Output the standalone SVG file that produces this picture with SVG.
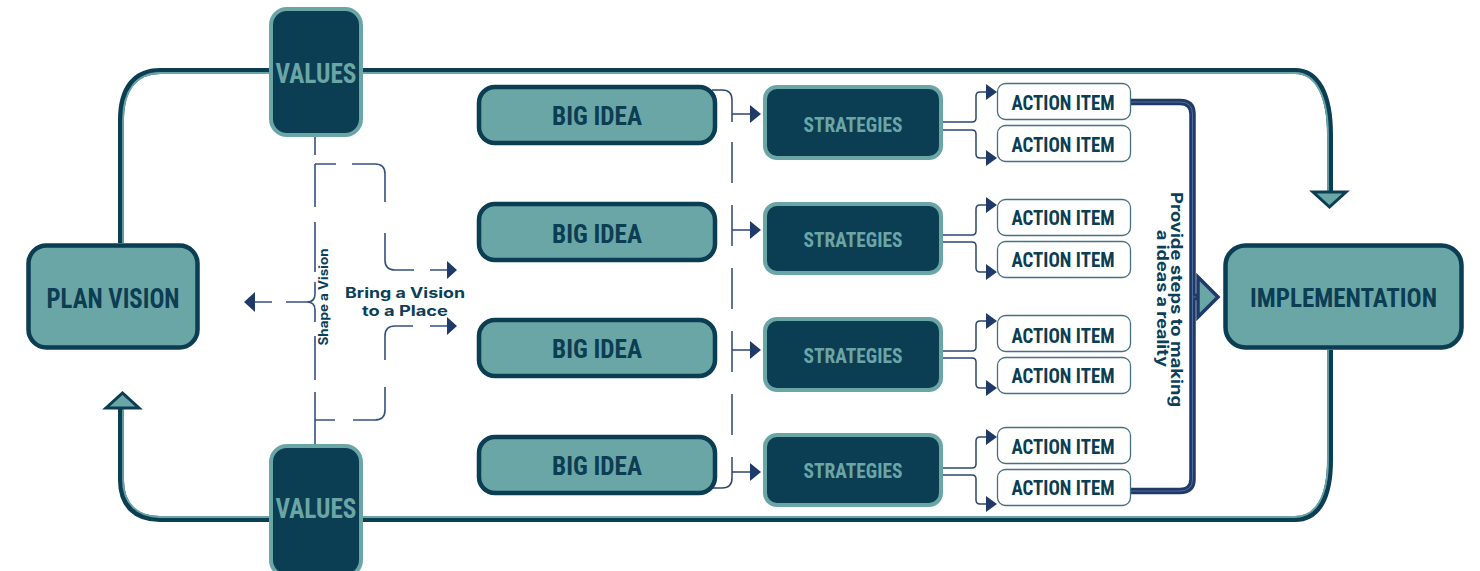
<svg xmlns="http://www.w3.org/2000/svg" width="1480" height="571" viewBox="0 0 1480 571">
<defs>
<style>
.tb{fill:#6ba6a7;stroke:#0b3d53;stroke-width:4.5}
.db{fill:#0b3d53;stroke:#6ba6a7;stroke-width:4}
.ai{fill:#fff;stroke:#46707f;stroke-width:1.3}
.cn{font-family:'Liberation Sans Narrow','Roboto Condensed','DejaVu Sans Condensed','Liberation Sans',sans-serif;font-weight:700;text-anchor:middle}
.gr{font-family:'Inter','Open Sans','Liberation Sans',sans-serif;font-weight:700;text-anchor:middle;fill:#0b4058}
.dk{fill:#0b3d53}
.lt{fill:#6ba6a7}
.dash{fill:none;stroke:#34507d;stroke-width:1.6}
.thin{fill:none;stroke:#2b4670;stroke-width:1.5}
.nav{fill:#1f3a68}
.loopD{fill:none;stroke:#0b3d53;stroke-width:6}
.loopL{fill:none;stroke:#6ba6a7;stroke-width:1.8}
.ahead{fill:#6ba6a7;stroke:#0b3d53;stroke-width:3;stroke-linejoin:miter}
</style>
</defs>

<g id="connectors">
  <!-- main loop top -->
  <path class="loopD" d="M121,243 V120 C121,88 135,71 160,71 H1295 C1318,71 1330,95 1330,135 V192"/>
  <path class="loopL" d="M123,243 V120 C123,90 137,73 160,73 H1295 C1316,73 1328,97 1328,135 V192"/>
  <polygon class="ahead" points="1313,192 1346,192 1329.5,207"/>
  <!-- main loop bottom -->
  <path class="loopD" d="M1330,350 V460 C1330,498 1318,519 1295,519 H160 C135,519 121,505 121,480 V408"/>
  <path class="loopL" d="M1328,350 V460 C1328,496 1316,517 1295,517 H160 C137,517 123,503 123,480 V408"/>
  <polygon class="ahead" points="106,408 139,408 122.5,393"/>

  <!-- dashed vertical between values -->
  <path class="dash" d="M315,137 V155 M315,164 V207 M315,222 V272 M315,282 V294 Q315,302 307,302 Q315,302 315,310 V322 M315,336 V380 M315,392 V446"/>
  <!-- top branch -->
  <path class="dash" d="M315,164 H336 M352,164 H375 Q385,164 385,174 V202 M385,233 V260 Q385,270 395,270 H414 M430,270 H448"/>
  <polygon class="nav" points="447,261 457,270 447,279"/>
  <!-- bottom branch -->
  <path class="dash" d="M315,420 H335 M353,420 H375 Q385,420 385,410 V387 M385,360 V336 Q385,326 395,326 H413 M430,326 H448"/>
  <polygon class="nav" points="447,317 457,326 447,335"/>
  <!-- left arrow to plan vision -->
  <path class="dash" d="M307,302 H286 M272,302 H254"/>
  <polygon class="nav" points="255,292 244,302 255,312"/>

  <!-- big idea to strategies -->
  <path class="thin" d="M712,90 H722 Q732,90 732,100 V122 M732,142 V183 M732,205 V246 M732,268 V309 M732,331 V372 M732,394 V435 M732,457 V478 Q732,488 722,488 H703"/>
  <path class="thin" d="M732,114 H751 M732,230 H751 M732,350 H751 M732,472 H751"/>
  <polygon class="nav" points="750,105 761,114 750,123"/>
  <polygon class="nav" points="750,221 761,230 750,239"/>
  <polygon class="nav" points="750,341 761,350 750,359"/>
  <polygon class="nav" points="750,463 761,472 750,481"/>

  <!-- strategies to action items -->
  <path class="thin" d="M943,122 H972 Q976,122 976,118 V96 Q976,92 980,92 H988 M943,130 H972 Q976,130 976,134 V154 Q976,158 980,158 H988"/>
  <path class="thin" d="M943,235 H972 Q976,235 976,231 V209 Q976,205 980,205 H988 M943,242 H972 Q976,242 976,246 V268 Q976,272 980,272 H988"/>
  <path class="thin" d="M943,351 H972 Q976,351 976,347 V325 Q976,321 980,321 H988 M943,358 H972 Q976,358 976,362 V384 Q976,388 980,388 H988"/>
  <path class="thin" d="M943,468 H972 Q976,468 976,464 V441 Q976,437 980,437 H988 M943,475 H972 Q976,475 976,479 V500 Q976,504 980,504 H988"/>
  <polygon class="nav" points="986,84 997,92 986,100"/>
  <polygon class="nav" points="986,150 997,158 986,166"/>
  <polygon class="nav" points="986,197 997,205 986,213"/>
  <polygon class="nav" points="986,264 997,272 986,280"/>
  <polygon class="nav" points="986,313 997,321 986,329"/>
  <polygon class="nav" points="986,380 997,388 986,396"/>
  <polygon class="nav" points="986,429 997,437 986,445"/>
  <polygon class="nav" points="986,496 997,504 986,512"/>

  <!-- right bracket to implementation -->
  <path fill="none" stroke="#1f3a68" stroke-width="6.5" d="M1131,102 H1180 Q1192.5,102 1192.5,114 V479 Q1192.5,491 1180,491 H1131 M1192.5,297 H1199"/>
  <path fill="none" stroke="#4f6d98" stroke-width="1" d="M1131,102 H1180 Q1192.5,102 1192.5,114 V479 Q1192.5,491 1180,491 H1131 M1192.5,297 H1199"/>
  <polygon points="1198,277 1218,297 1198,317" fill="#6ba6a7" stroke="#1f3a68" stroke-width="3.5"/>
</g>

<g id="plan-vision">
  <rect class="tb" x="28.5" y="245.5" width="169" height="102" rx="18"/>
  <text class="cn dk" x="113" y="308" font-size="28" textLength="133" lengthAdjust="spacingAndGlyphs">PLAN VISION</text>
</g>

<g id="implementation">
  <rect class="tb" x="1225.5" y="245.5" width="236" height="102" rx="20"/>
  <text class="cn dk" x="1343.5" y="307" font-size="26" textLength="187" lengthAdjust="spacingAndGlyphs">IMPLEMENTATION</text>
</g>

<g id="values-top">
  <rect class="db" x="271" y="9" width="90" height="126" rx="16" stroke-width="4.5"/>
  <text class="cn lt" x="316" y="83" font-size="27" textLength="81" lengthAdjust="spacingAndGlyphs">VALUES</text>
</g>

<g id="values-bottom">
  <rect class="db" x="271" y="446" width="90" height="130" rx="16" stroke-width="4.5"/>
  <text class="cn lt" x="316" y="518" font-size="27" textLength="81" lengthAdjust="spacingAndGlyphs">VALUES</text>
</g>

<g id="label-shape">
  <text class="gr" transform="translate(328,297) rotate(-90)" font-size="12.5" textLength="97" lengthAdjust="spacingAndGlyphs">Shape a Vision</text>
</g>
<g id="label-bring">
  <text class="gr" x="405" y="298" font-size="14" textLength="120" lengthAdjust="spacingAndGlyphs">Bring a Vision</text>
  <text class="gr" x="405" y="315.5" font-size="14" textLength="86" lengthAdjust="spacingAndGlyphs">to a Place</text>
</g>

<g id="big-idea-1">
  <rect class="tb" x="479" y="87" width="236" height="56" rx="16"/>
  <text class="cn dk" x="597" y="125" font-size="25" textLength="90" lengthAdjust="spacingAndGlyphs">BIG IDEA</text>
</g>
<g id="big-idea-2">
  <rect class="tb" x="479" y="204" width="236" height="56" rx="16"/>
  <text class="cn dk" x="597" y="243" font-size="25" textLength="90" lengthAdjust="spacingAndGlyphs">BIG IDEA</text>
</g>
<g id="big-idea-3">
  <rect class="tb" x="479" y="320" width="236" height="56" rx="16"/>
  <text class="cn dk" x="597" y="358" font-size="25" textLength="90" lengthAdjust="spacingAndGlyphs">BIG IDEA</text>
</g>
<g id="big-idea-4">
  <rect class="tb" x="479" y="437" width="236" height="56" rx="16"/>
  <text class="cn dk" x="597" y="475" font-size="25" textLength="90" lengthAdjust="spacingAndGlyphs">BIG IDEA</text>
</g>

<g id="strategies-1">
  <rect class="db" x="765" y="87" width="176" height="71" rx="12"/>
  <text class="cn lt" x="853" y="132" font-size="21" textLength="99" lengthAdjust="spacingAndGlyphs">STRATEGIES</text>
</g>
<g id="strategies-2">
  <rect class="db" x="765" y="204" width="176" height="69" rx="12"/>
  <text class="cn lt" x="853" y="247" font-size="21" textLength="99" lengthAdjust="spacingAndGlyphs">STRATEGIES</text>
</g>
<g id="strategies-3">
  <rect class="db" x="765" y="319" width="176" height="71" rx="12"/>
  <text class="cn lt" x="853" y="363" font-size="21" textLength="99" lengthAdjust="spacingAndGlyphs">STRATEGIES</text>
</g>
<g id="strategies-4">
  <rect class="db" x="765" y="435" width="176" height="70" rx="12"/>
  <text class="cn lt" x="853" y="478" font-size="21" textLength="99" lengthAdjust="spacingAndGlyphs">STRATEGIES</text>
</g>

<g id="action-1"><rect class="ai" x="997.5" y="83.5" width="133" height="36" rx="8"/><text class="cn dk" x="1063" y="110" font-size="21" textLength="103" lengthAdjust="spacingAndGlyphs">ACTION ITEM</text></g>
<g id="action-2"><rect class="ai" x="997.5" y="125.5" width="133" height="36" rx="8"/><text class="cn dk" x="1063" y="152" font-size="21" textLength="103" lengthAdjust="spacingAndGlyphs">ACTION ITEM</text></g>
<g id="action-3"><rect class="ai" x="997.5" y="199.5" width="133" height="36" rx="8"/><text class="cn dk" x="1063" y="225" font-size="21" textLength="103" lengthAdjust="spacingAndGlyphs">ACTION ITEM</text></g>
<g id="action-4"><rect class="ai" x="997.5" y="241.5" width="133" height="36" rx="8"/><text class="cn dk" x="1063" y="267" font-size="21" textLength="103" lengthAdjust="spacingAndGlyphs">ACTION ITEM</text></g>
<g id="action-5"><rect class="ai" x="997.5" y="315.5" width="133" height="36" rx="8"/><text class="cn dk" x="1063" y="343" font-size="21" textLength="103" lengthAdjust="spacingAndGlyphs">ACTION ITEM</text></g>
<g id="action-6"><rect class="ai" x="997.5" y="357.5" width="133" height="36" rx="8"/><text class="cn dk" x="1063" y="383" font-size="21" textLength="103" lengthAdjust="spacingAndGlyphs">ACTION ITEM</text></g>
<g id="action-7"><rect class="ai" x="997.5" y="427.5" width="133" height="36" rx="8"/><text class="cn dk" x="1063" y="454" font-size="21" textLength="103" lengthAdjust="spacingAndGlyphs">ACTION ITEM</text></g>
<g id="action-8"><rect class="ai" x="997.5" y="469.5" width="133" height="36" rx="8"/><text class="cn dk" x="1063" y="495" font-size="21" textLength="103" lengthAdjust="spacingAndGlyphs">ACTION ITEM</text></g>

<g id="label-provide">
  <text class="gr" font-size="16" transform="translate(1171,299.5) rotate(90)"><tspan x="0" y="0" textLength="215" lengthAdjust="spacingAndGlyphs">Provide steps to making</tspan><tspan x="-1" y="14" textLength="137" lengthAdjust="spacingAndGlyphs">a ideas a reality</tspan></text>
</g>
</svg>
